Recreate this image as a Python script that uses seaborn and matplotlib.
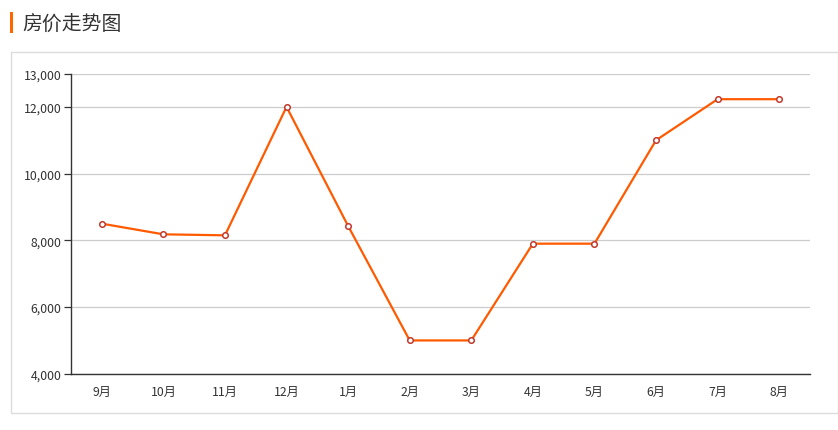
import matplotlib
matplotlib.use("Agg")
import matplotlib.pyplot as plt
import seaborn as sns
import pandas as pd
from matplotlib.patches import Rectangle
from matplotlib.ticker import FuncFormatter, FixedLocator

months = ["9月", "10月", "11月", "12月", "1月", "2月", "3月", "4月", "5月", "6月", "7月", "8月"]
prices = [8500, 8180, 8150, 12000, 8430, 5000, 5000, 7900, 7900, 11000, 12230, 12230]
y_ticks = [4000, 6000, 8000, 10000, 12000, 13000]
title = "房价走势图"

sns.set_theme(style="white")
plt.rcParams['font.family'] = ['Noto Sans CJK SC', 'DejaVu Sans']

W, H = 838, 431
fig = plt.figure(figsize=(W / 100, H / 100), dpi=100)

def fx(px):
    return px / W

def fy(py):
    return 1 - py / H

# panel border
fig.patches.append(Rectangle((fx(10.5), fy(414)), fx(837.5) - fx(10.5), fy(53) - fy(414),
                             transform=fig.transFigure, fill=False, edgecolor="#dcdcdc", linewidth=1.0))
# title bar
fig.patches.append(Rectangle((fx(10), fy(34)), fx(3.2), fy(13) - fy(34),
                             transform=fig.transFigure, facecolor="#ff6600", edgecolor="none"))
fig.text(fx(22), fy(24), title, fontsize=14.3, color="#333333", va="center", ha="left")

ax = fig.add_axes([fx(71), fy(374.8), fx(810) - fx(71), fy(74.5) - fy(374.8)])
df = pd.DataFrame({"month": months, "price": prices})
sns.lineplot(data=df, x="month", y="price", ax=ax, color="#ff5a00", linewidth=1.6,
             marker="o", markersize=4, markerfacecolor="white", markeredgecolor="#c0392b",
             markeredgewidth=1.1, sort=False)

ax.set_xlim(-0.5, len(months) - 0.5)
ax.set_ylim(min(y_ticks), max(y_ticks))
ax.set_xlabel("")
ax.set_ylabel("")

ax.yaxis.set_major_locator(FixedLocator(y_ticks))
ax.yaxis.set_major_formatter(FuncFormatter(lambda v, p: f"{int(v):,}"))
ax.set_xticks(range(len(months)))
ax.set_xticklabels(months)
ax.set_xticks([i - 0.5 for i in range(len(months) + 1)], minor=True)

ax.tick_params(axis="x", which="major", length=0, pad=8, labelsize=8.8, colors="#333333")
ax.tick_params(axis="x", which="minor", length=4, width=0.9, color="#333333", direction="out")
ax.tick_params(axis="y", which="major", length=5, width=0.9, color="#333333", pad=2,
               labelsize=8.8, labelcolor="#333333", direction="out", left=True)

ax.yaxis.grid(True, color="#cccccc", linewidth=0.9)
ax.xaxis.grid(False)
ax.set_axisbelow(True)

for s in ["top", "right"]:
    ax.spines[s].set_visible(False)
for s in ["left", "bottom"]:
    ax.spines[s].set_color("#333333")
    ax.spines[s].set_linewidth(1.0)

fig.savefig("out.png", dpi=100)
